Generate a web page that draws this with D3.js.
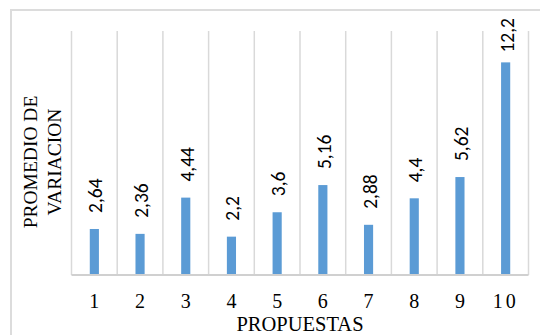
<!DOCTYPE html>
<html>
<head>
<meta charset="utf-8">
<script src="https://cdn.jsdelivr.net/npm/d3@7"></script>
<style>
  html, body { margin: 0; padding: 0; background: #ffffff; }
  svg { display: block; }
</style>
</head>
<body>
<svg id="chart" width="540" height="335"></svg>
<script>
// Promedio de variación por propuesta
const propuestas = ["1", "2", "3", "4", "5", "6", "7", "8", "9", "10"];
const promedios = [2.64, 2.36, 4.44, 2.2, 3.6, 5.16, 2.88, 4.4, 5.62, 12.2];
const etiquetas = ["2,64", "2,36", "4,44", "2,2", "3,6", "5,16", "2,88", "4,4", "5,62", "12,2"];
const yDomain = [0, 14];
const tituloX = "PROPUESTAS";
const tituloY = ["PROMEDIO DE", "VARIACION"];

const svg = d3.select("#chart");
const plot = { left: 71.5, right: 528.5, top: 31, bottom: 275 };

const serif = "'Liberation Serif', 'Times New Roman', serif";
const sans = "Carlito, 'Liberation Sans', Arial, sans-serif";
const grid = "#d9d9d9";
const barColor = "#5b9bd5";

// outer chart frame (continues past the right and bottom edges)
svg.append("rect")
  .attr("x", 11).attr("y", 10)
  .attr("width", 560).attr("height", 360)
  .attr("fill", "none")
  .attr("stroke", "#dcdcdc")
  .attr("stroke-width", 2);

const x = d3.scaleBand()
  .domain(propuestas)
  .range([plot.left, plot.right])
  .paddingInner(0).paddingOuter(0);

const y = d3.scaleLinear()
  .domain(yDomain)
  .range([plot.bottom, plot.top]);

// vertical gridlines on the category boundaries
const bounds = propuestas.map(d => x(d)).concat([x.range()[1]]);
svg.append("g")
  .selectAll("line")
  .data(bounds)
  .join("line")
  .attr("x1", d => d).attr("x2", d => d)
  .attr("y1", y(yDomain[1])).attr("y2", y(0))
  .attr("stroke", grid)
  .attr("stroke-width", 1.5);

// bars
const barW = x.bandwidth() * 0.2;
svg.append("g")
  .selectAll("rect")
  .data(promedios)
  .join("rect")
  .attr("x", (d, i) => x(propuestas[i]) + (x.bandwidth() - barW) / 2)
  .attr("y", d => y(d))
  .attr("width", barW)
  .attr("height", d => y(0) - y(d))
  .attr("fill", barColor);

// category axis line
svg.append("line")
  .attr("x1", plot.left).attr("x2", plot.right)
  .attr("y1", y(0)).attr("y2", y(0))
  .attr("stroke", "#d0d0d0")
  .attr("stroke-width", 2);

// category tick labels
const xAxis = svg.append("g")
  .attr("transform", `translate(0,${y(0)})`)
  .call(d3.axisBottom(x).tickSize(0).tickPadding(0));
xAxis.select(".domain").remove();
xAxis.selectAll("text")
  .attr("y", 33)
  .attr("dy", 0)
  .attr("fill", "#000")
  .style("font-family", serif)
  .style("font-size", "20px")
  .style("letter-spacing", d => d.length > 1 ? "3px" : "0px");

// value labels, rotated, placed above each bar
const labels = svg.append("g")
  .selectAll("text")
  .data(promedios)
  .join("text")
  .text((d, i) => etiquetas[i])
  .attr("fill", "#000")
  .style("font-family", sans)
  .style("font-size", "19.5px")
  .attr("text-anchor", "start")
  .attr("dy", "0.36em");
labels.each(function (d, i) {
  const len = this.getComputedTextLength();
  const cx = x(propuestas[i]) + x.bandwidth() / 2 + 1;
  let base = y(d) - 16;
  if (base - len < 18) base = 18 + len;
  d3.select(this).attr("transform", `translate(${cx},${base}) rotate(-90)`);
});

// axis titles
svg.append("text")
  .attr("x", (plot.left + plot.right) / 2)
  .attr("y", 331)
  .attr("text-anchor", "middle")
  .style("font-family", serif)
  .style("font-size", "20.5px")
  .text(tituloX);

const yt = svg.append("text")
  .attr("transform", `translate(37,${(plot.top + plot.bottom) / 2 + 9}) rotate(-90)`)
  .attr("text-anchor", "middle")
  .style("font-family", serif)
  .style("font-size", "19.5px");
tituloY.forEach((t, i) => {
  yt.append("tspan")
    .attr("x", 0)
    .attr("dy", i === 0 ? 0 : 24)
    .text(t);
});
</script>
</body>
</html>
